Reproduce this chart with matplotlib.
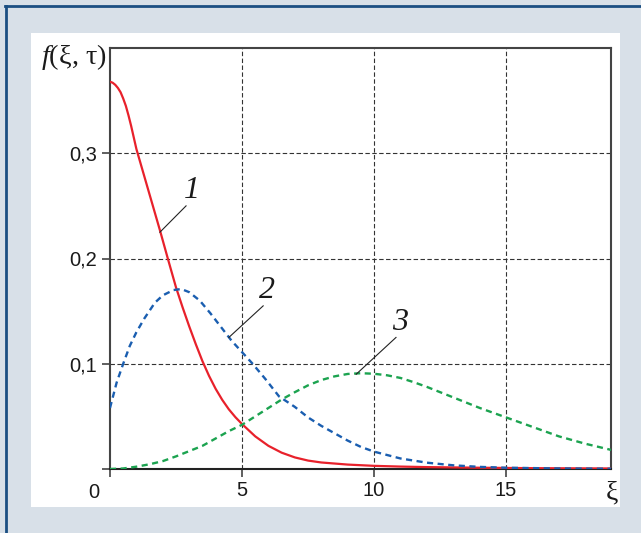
import matplotlib
matplotlib.use("Agg")
import matplotlib.pyplot as plt
from matplotlib.patches import Rectangle
from matplotlib.lines import Line2D

# ---- data ----
x1 = [0, 0.1, 0.2, 0.3, 0.4, 0.5, 0.6, 0.7, 0.8, 0.9, 1.0, 1.15, 1.3, 1.6, 1.9, 2.2, 2.5,
      2.75, 3.0, 3.25, 3.5, 3.75, 4.0, 4.25, 4.5, 4.75, 5.0, 5.5, 6.0, 6.5, 7.0, 7.5, 8.0,
      9.0, 10.0, 11.0, 12.0, 14.0, 16.0, 19.0]
y1 = [0.368, 0.367, 0.365, 0.362, 0.358, 0.352, 0.345, 0.336, 0.326, 0.315, 0.304, 0.291,
      0.278, 0.252, 0.226, 0.199, 0.1725, 0.1535, 0.1355, 0.1185, 0.1025, 0.0885, 0.0762,
      0.0657, 0.0567, 0.0492, 0.0427, 0.031, 0.022, 0.0155, 0.011, 0.008, 0.0062, 0.0042,
      0.003, 0.0023, 0.0018, 0.0012, 0.0008, 0.0005]

x2 = [0, 0.25, 0.5, 0.75, 1.0, 1.3, 1.7, 2.0, 2.4, 2.7, 3.0, 3.4, 3.8, 4.2, 4.6, 5.0, 5.4,
      5.9, 6.4, 7.0, 7.5, 8.0, 8.5, 9.0, 9.5, 10.0, 11.0, 12.0, 13.0, 14.0, 15.0, 17.0, 19.0]
y2 = [0.058, 0.082, 0.100, 0.117, 0.130, 0.143, 0.158, 0.165, 0.170, 0.171, 0.168, 0.160,
      0.148, 0.135, 0.122, 0.111, 0.100, 0.085, 0.069, 0.059, 0.049, 0.041, 0.034, 0.027,
      0.021, 0.0165, 0.010, 0.006, 0.0035, 0.002, 0.0012, 0.0005, 0.0002]

x3 = [0, 0.5, 1.0, 1.5, 2.0, 2.5, 3.0, 3.5, 4.0, 4.5, 5.0, 5.5, 6.0, 6.5, 7.0, 7.5, 8.0,
      8.5, 9.0, 9.5, 10.0, 10.5, 11.0, 11.5, 12.0, 12.5, 13.0, 13.5, 14.0, 15.0, 16.0, 17.0,
      18.0, 19.0]
y3 = [0.0, 0.0005, 0.0022, 0.0045, 0.0075, 0.012, 0.017, 0.022, 0.029, 0.036, 0.042, 0.050,
      0.058, 0.066, 0.073, 0.0795, 0.0845, 0.088, 0.0903, 0.091, 0.0905, 0.089, 0.0865,
      0.0825, 0.078, 0.073, 0.068, 0.063, 0.058, 0.049, 0.040, 0.031, 0.024, 0.018]

xticks = [5, 10, 15]
xtick_labels = ["5", "10", "15"]
yticks = [0.1, 0.2, 0.3]
ytick_labels = ["0,1", "0,2", "0,3"]
curve_labels = ["1", "2", "3"]
label_pos = [(3.1, 0.265), (5.95, 0.170), (10.98, 0.139)]
leader_lines = [((2.88, 0.250), (1.89, 0.225)),
                ((5.8, 0.155), (4.5, 0.125)),
                ((10.83, 0.125), (9.32, 0.090))]

plt.rcParams['mathtext.fontset'] = 'custom'
plt.rcParams['mathtext.it'] = 'Liberation Serif:italic'
plt.rcParams['mathtext.rm'] = 'Liberation Serif'

W, H = 641, 533
fig = plt.figure(figsize=(W / 100, H / 100), dpi=100)
bg = '#d8e0e8'
fig.patch.set_facecolor(bg)

# white panel
fig.patches.append(Rectangle((31 / W, 1 - 507 / H), (620 - 31) / W, (507 - 33) / H,
                             transform=fig.transFigure, facecolor='white', edgecolor='none', zorder=-5))
# blue border lines
fig.lines.append(Line2D([5 / W, 1], [1 - 6 / H, 1 - 6 / H], transform=fig.transFigure,
                        color='#1b4f82', lw=2.0, zorder=-5))
fig.lines.append(Line2D([6 / W, 6 / W], [0, 1 - 6 / H], transform=fig.transFigure,
                        color='#1b4f82', lw=2.0, zorder=-5))

ax = fig.add_axes([110 / W, 1 - 469 / H, (610.7 - 110) / W, (469 - 48) / H])
ax.set_zorder(2)
ax.set_facecolor('white')
ax.set_xlim(0, 18.96)
ax.set_ylim(0, 0.4)

for s in ax.spines.values():
    s.set_color('#444444')
    s.set_linewidth(1.5)
ax.spines['bottom'].set_color('#222222')

# grid
for xv in xticks:
    ax.axvline(xv, color='#333333', lw=0.8, dashes=(4, 2.2), zorder=1)
for yv in yticks:
    ax.axhline(yv, color='#333333', lw=0.8, dashes=(4, 2.2), zorder=1)

ax.plot(x1, y1, color='#e8212b', lw=1.6, zorder=3, solid_capstyle='butt')
ax.plot(x2, y2, color='#1a5eb0', lw=1.7, dashes=(2.6, 1.9), zorder=3)
ax.plot(x3, y3, color='#1ca350', lw=1.7, dashes=(2.6, 1.9), zorder=3)

sans = ['Liberation Sans', 'DejaVu Sans']
serif = ['Liberation Serif', 'DejaVu Serif']
tick_font = dict(family=sans, size=14.5)
ax.set_xticks([0] + xticks)
ax.set_xticklabels([''] + xtick_labels, fontdict=tick_font)
ax.set_yticks([0] + yticks)
ax.set_yticklabels([''] + ytick_labels, fontdict=tick_font)
ax.tick_params(direction='out', length=6, width=1.2, color='#444444', pad=3, labelcolor='#1a1a1a')

# "0" origin label and "ξ" axis label
ax.annotate('0', xy=(0, 0), xycoords='data', xytext=(-12, -17), textcoords='offset points',
            ha='center', va='center', fontsize=14.5, family=sans,
            color='#1a1a1a', annotation_clip=False)
ax.annotate('ξ', xy=(1, 0), xycoords='axes fraction', xytext=(1, -17), textcoords='offset points',
            ha='center', va='center', fontsize=20, family=serif,
            color='#1a1a1a', annotation_clip=False)

# y axis label
ax.text(-0.006, 0.978, r'$f$(ξ, τ)', transform=ax.transAxes, ha='right', va='center',
        fontsize=20.5, family=serif, color='#1a1a1a')

# curve labels with leader lines
for lab, (lx, ly), ((ax0, ay0), (ax1, ay1)) in zip(curve_labels, label_pos, leader_lines):
    ax.text(lx, ly, lab, ha='center', va='center', fontsize=23, style='italic',
            family=serif, color='#1a1a1a', zorder=4)
    ax.plot([ax0, ax1], [ay0, ay1], color='#222222', lw=0.8, zorder=4)

fig.savefig('out.png', dpi=100, facecolor=fig.get_facecolor())
